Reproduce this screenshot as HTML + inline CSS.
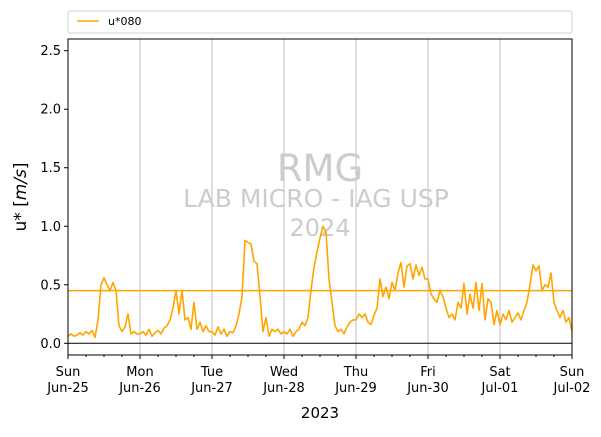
<!DOCTYPE html>
<html><head><meta charset="utf-8"><style>
body{margin:0;background:#fff;font-family:"Liberation Sans","DejaVu Sans",sans-serif}
</style></head><body>
<svg id="chart" width="601" height="432" xmlns="http://www.w3.org/2000/svg" font-family="DejaVu Sans, Liberation Sans, sans-serif">
<rect width="601" height="432" fill="#fff"/>
<g id="grid"></g>
<g id="watermark" fill="#cccccc" text-anchor="middle">
<text x="320" y="181" font-size="37">RMG</text>
<text x="316" y="207" font-size="25">LAB MICRO - IAG USP</text>
<text x="320" y="236" font-size="24">2024</text>
</g>
<g id="series"></g>
<rect x="68" y="39" width="504" height="316" fill="none" stroke="#000" stroke-width="1"/>
<g id="axes" font-size="13"></g>
<text transform="translate(26,197) rotate(-90)" text-anchor="middle" font-size="17">u* [<tspan font-style="italic">m/s</tspan>]</text>
<text x="320" y="418" text-anchor="middle" font-size="15">2023</text>
<g>
<rect x="68" y="11" width="504" height="22" rx="2" fill="#fff" stroke="#d0d0d0"/>
<line x1="77" y1="21" x2="99" y2="21" stroke="#ffa500" stroke-width="1.6"/>
<text x="108" y="25" font-size="11">u*080</text>
</g>
</svg>
<script>
const dayLabels=["Sun","Mon","Tue","Wed","Thu","Fri","Sat","Sun"];
const dateLabels=["Jun-25","Jun-26","Jun-27","Jun-28","Jun-29","Jun-30","Jul-01","Jul-02"];
const yTicks=[0,0.5,1,1.5,2,2.5];
const meanVal=0.45;
const ustar=[
0.06,0.08,0.06,0.07,0.09,0.07,0.10,0.08,0.11,0.05,0.20,0.50,0.56,0.50,0.45,0.52,0.45,0.15,0.10,0.14,0.25,0.08,0.10,0.08,
0.08,0.10,0.07,0.12,0.06,0.09,0.11,0.08,0.13,0.15,0.20,0.30,0.45,0.25,0.45,0.20,0.22,0.12,0.35,0.12,0.18,0.10,0.15,0.10,
0.10,0.07,0.14,0.08,0.12,0.06,0.10,0.09,0.15,0.25,0.40,0.88,0.86,0.85,0.70,0.68,0.40,0.10,0.22,0.06,0.12,0.10,0.12,0.08,
0.10,0.08,0.12,0.06,0.10,0.12,0.18,0.15,0.22,0.45,0.65,0.78,0.90,1.00,0.95,0.55,0.35,0.15,0.10,0.12,0.08,0.14,0.18,0.20,
0.20,0.25,0.22,0.25,0.18,0.16,0.24,0.30,0.55,0.40,0.48,0.38,0.52,0.45,0.60,0.69,0.48,0.66,0.68,0.55,0.67,0.58,0.65,0.55,
0.55,0.42,0.38,0.35,0.45,0.40,0.30,0.22,0.25,0.20,0.35,0.30,0.51,0.25,0.42,0.30,0.52,0.28,0.51,0.20,0.38,0.35,0.16,0.28,
0.16,0.25,0.20,0.28,0.18,0.22,0.26,0.20,0.28,0.35,0.50,0.67,0.62,0.66,0.45,0.50,0.48,0.60,0.35,0.28,0.22,0.28,0.18,0.22,0.10];
const X0=68,X1=572,Y0=355,Y1=39,ymin=-0.1,ymax=2.6,nHours=168;
const xs=h=>X0+(X1-X0)*h/nHours;
const ys=v=>Y0-(v-ymin)/(ymax-ymin)*(Y0-Y1);
const NS="http://www.w3.org/2000/svg";
function mk(p,t,a){const e=document.createElementNS(NS,t);for(const k in a)e.setAttribute(k,a[k]);p.appendChild(e);return e;}
const grid=document.getElementById('grid'),axes=document.getElementById('axes'),series=document.getElementById('series');
for(let d=1;d<7;d++){
const g=mk(grid,'line',{x1:xs(d*24),x2:xs(d*24),y1:Y1,y2:Y0,stroke:'#b0b0b0','stroke-width':0.8});


}
const zl=mk(series,'line',{x1:X0,x2:X1,y1:ys(0),y2:ys(0),stroke:'#000','stroke-width':1});


const ml=mk(series,'line',{x1:X0,x2:X1,y1:ys(meanVal),y2:ys(meanVal),stroke:'#ffa500','stroke-width':1.6});


const pl=mk(series,'polyline',{points:ustar.map((v,i)=>xs(i)+','+ys(v)).join(' '),fill:'none',stroke:'#ffa500','stroke-width':1.6,'stroke-linejoin':'round'});


yTicks.forEach(v=>{
mk(axes,'line',{x1:X0-4,x2:X0,y1:ys(v),y2:ys(v),stroke:'#000'});
const t=mk(axes,'text',{x:X0-7,y:ys(v)+4.5,'text-anchor':'end'});


t.textContent=v.toFixed(1);
});
for(let h=0;h<=nHours;h+=6){
const major=h%24===0;
mk(axes,'line',{x1:xs(h),x2:xs(h),y1:Y0,y2:Y0+(major?4:2),stroke:'#000'});
}
dayLabels.forEach((d,i)=>{
const t=mk(axes,'text',{x:xs(i*24),y:376,'text-anchor':'middle'});


t.textContent=d;
const t2=mk(axes,'text',{x:xs(i*24),y:392,'text-anchor':'middle'});


t2.textContent=dateLabels[i];
});
</script>
</body></html>
